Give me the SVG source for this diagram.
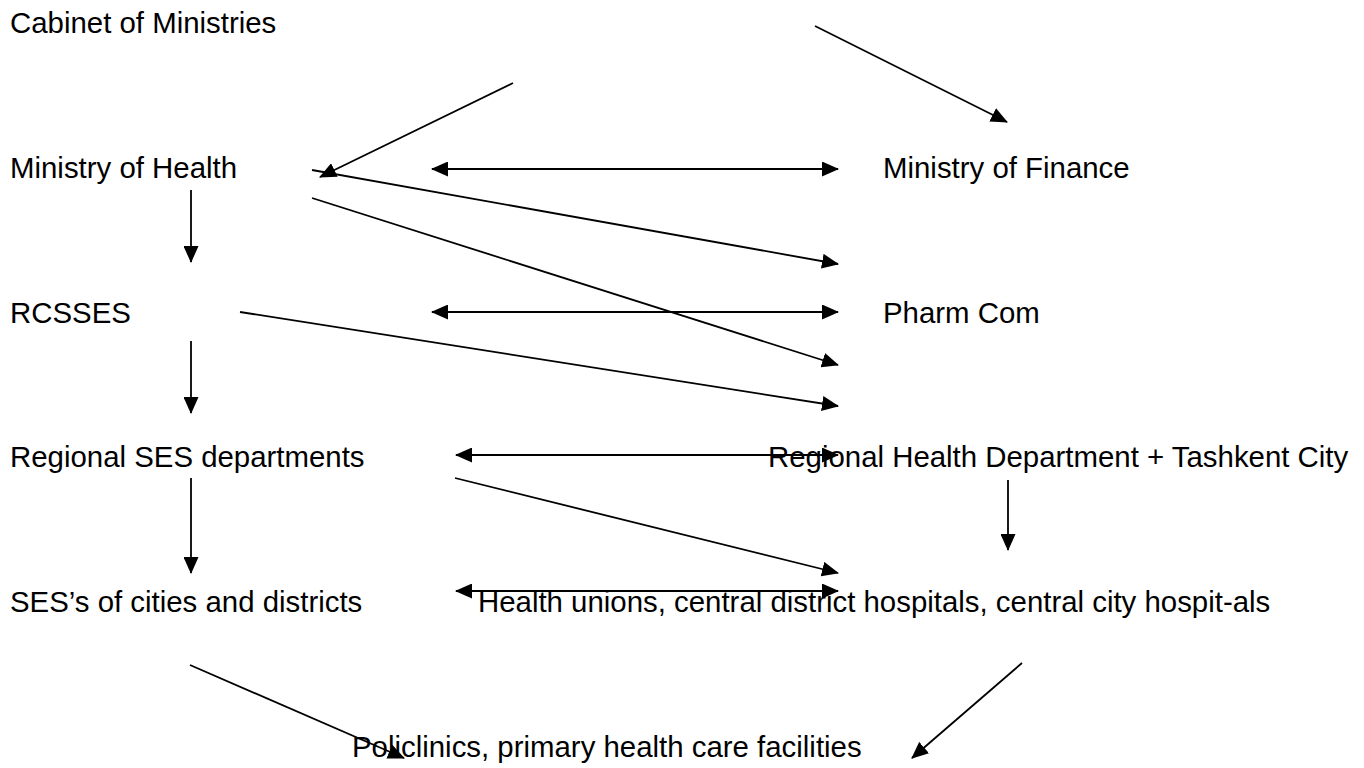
<svg xmlns="http://www.w3.org/2000/svg" width="1364" height="768" viewBox="0 0 1364 768">
<defs>
<marker id="ah" markerUnits="userSpaceOnUse" markerWidth="17" markerHeight="15" refX="16" refY="7.5" orient="auto-start-reverse">
<path d="M0,0 L17,7.5 L0,15 z" fill="#000"/>
</marker>
<style>
text{font-family:"Liberation Sans",Arial,Helvetica,sans-serif;font-size:29.4px;fill:#000}
line{stroke:#000;stroke-width:1.8;fill:none}
.a{marker-end:url(#ah)}
.d{marker-start:url(#ah);marker-end:url(#ah)}
</style>
</defs>
<rect width="1364" height="768" fill="#fff"/>
<g id="n-cabinet"><text x="10" y="33">Cabinet of Ministries</text></g>
<g id="n-moh"><text x="10" y="178">Ministry of Health</text></g>
<g id="n-mof"><text x="883" y="178">Ministry of Finance</text></g>
<g id="n-rcsses"><text x="10" y="323">RCSSES</text></g>
<g id="n-pharm"><text x="883" y="323">Pharm Com</text></g>
<g id="n-regses"><text x="10" y="467">Regional SES departments</text></g>
<g id="n-reghealth"><text x="768" y="467">Regional Health Department + Tashkent City</text></g>
<g id="n-ses"><text x="10" y="612">SES’s of cities and districts</text></g>
<g id="n-unions"><text x="478" y="612">Health unions, central district hospitals, central city hospit-als</text></g>
<g id="n-policlinics"><text x="352" y="757">Policlinics, primary health care facilities</text></g>
<g id="connectors">
<line class="a" x1="815" y1="26" x2="1007" y2="122"/>
<line class="a" x1="513" y1="83" x2="320" y2="177"/>
<line class="d" x1="432" y1="169" x2="838" y2="169"/>
<line class="a" x1="191" y1="190" x2="191" y2="262"/>
<line class="a" x1="312" y1="170" x2="838" y2="264"/>
<line class="a" x1="312" y1="198" x2="838" y2="365"/>
<line class="d" x1="432" y1="312" x2="838" y2="312"/>
<line class="a" x1="240" y1="312" x2="838" y2="406"/>
<line class="a" x1="191" y1="341" x2="191" y2="413"/>
<line class="d" x1="456" y1="455" x2="838" y2="455"/>
<line class="a" x1="455" y1="478" x2="838" y2="573"/>
<line class="a" x1="191" y1="478" x2="191" y2="573"/>
<line class="a" x1="1008" y1="480" x2="1008" y2="550"/>
<line class="d" x1="456" y1="591" x2="838" y2="591"/>
<line class="a" x1="190" y1="665" x2="404" y2="758"/>
<line class="a" x1="1022" y1="663" x2="912" y2="758"/>
</g>
</svg>
